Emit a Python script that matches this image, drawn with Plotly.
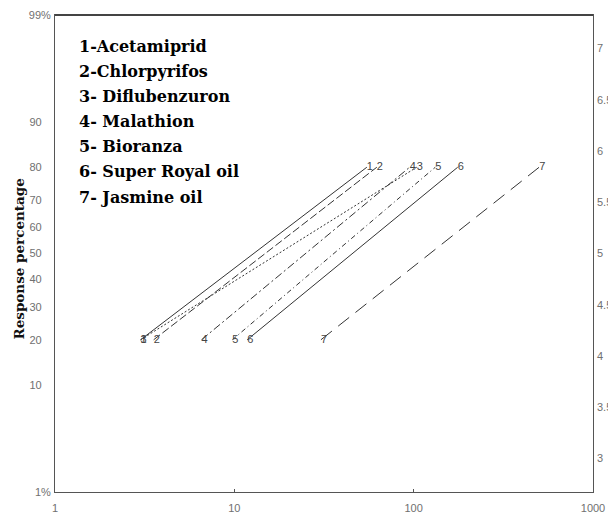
import plotly.graph_objects as go
from statistics import NormalDist

# ---- data ----
series_ids = ["1", "2", "3", "4", "5", "6", "7"]
series_names = ["1-Acetamiprid", "2-Chlorpyrifos", "3- Diflubenzuron", "4- Malathion",
                "5- Bioranza", "6- Super Royal oil", "7- Jasmine oil"]
response_low = 20    # % response at line start
response_high = 80   # % response at line end
dose_low = [3.0, 3.55, 3.0, 6.56, 9.75, 11.8, 30.4]      # dose at 20 %
dose_high = [54.8, 62.3, 104.0, 95.0, 132.0, 176.0, 501.0]  # dose at 80 %

x_tick_values = [1, 10, 100, 1000]
left_tick_labels = [99, 90, 80, 70, 60, 50, 40, 30, 20, 10, 1]
right_tick_values = [3, 3.5, 4, 4.5, 5, 5.5, 6, 6.5, 7]

# ---- styles ----
dash_styles = ["solid", "8px,3px", "2px,2px", "8px,3px,2px,3px", "5px,3px,1px,3px", "solid", "14px,8px"]
line_color = "#333333"
label_grey = "#444444"
tick_grey = "#707070"


def probit(pct):
    return 5 + NormalDist().inv_cdf(pct / 100.0)


y_range = [probit(1), probit(99)]

fig = go.Figure()
for sid, lo, hi, dsh in zip(series_ids, dose_low, dose_high, dash_styles):
    fig.add_trace(go.Scatter(
        x=[lo, hi], y=[probit(response_low), probit(response_high)],
        mode="lines+text", text=[sid, sid], textposition="middle right",
        textfont=dict(family="Liberation Sans", size=11, color=label_grey),
        line=dict(color=line_color, width=1, dash=dsh),
        showlegend=False, cliponaxis=False, hoverinfo="skip"))

# invisible trace to carry the right-hand probit axis
fig.add_trace(go.Scatter(x=[x_tick_values[0]], y=[5], yaxis="y2", mode="markers",
                         marker=dict(size=1, opacity=0), showlegend=False, hoverinfo="skip"))


def left_text(v):
    if v in (1, 99):
        return f"{v}%"
    return f"{v}" + "\u00a0" * 3


fig.update_layout(
    template="none",
    width=608, height=518,
    margin=dict(l=55, r=15, t=15, b=26),
    paper_bgcolor="white", plot_bgcolor="white",
    xaxis=dict(type="log", range=[0, 3], tickmode="array", tickvals=x_tick_values,
               ticktext=[str(v) for v in x_tick_values], showgrid=False, zeroline=False,
               showline=True, mirror=True, linecolor="#555555", linewidth=1,
               ticks="inside", ticklen=3, tickcolor="#555555", automargin=False,
               tickfont=dict(family="Liberation Sans", size=11, color=tick_grey),
               ticklabelstandoff=6),
    yaxis=dict(range=y_range, tickmode="array",
               tickvals=[probit(v) for v in left_tick_labels],
               ticktext=[left_text(v) for v in left_tick_labels],
               showgrid=False, zeroline=False, showline=True, mirror=True,
               linecolor="#555555", linewidth=1, ticks="", automargin=False,
               tickfont=dict(family="Liberation Sans", size=11, color=tick_grey),
               ticklabelstandoff=1),
    yaxis2=dict(range=y_range, overlaying="y", side="right", tickmode="array",
                tickvals=right_tick_values, ticktext=[str(v) for v in right_tick_values],
                showgrid=False, zeroline=False, showline=False, ticks="", automargin=False,
                tickfont=dict(family="Liberation Sans", size=11, color=tick_grey),
                ticklabelstandoff=3),
)

# thicker top frame line
fig.add_shape(type="line", xref="paper", yref="paper", x0=0, x1=1, y0=1, y1=1,
              line=dict(color="#444444", width=2))

# y-axis title
fig.add_annotation(text="<b>Response percentage</b>", xref="paper", yref="paper",
                   x=(18 - 55) / 538, y=(492 - 259.5) / 477, textangle=-90,
                   showarrow=False, xanchor="center", yanchor="middle",
                   font=dict(family="DejaVu Serif", size=13.5, color="#111111"))

# legend block
for i, name in enumerate(series_names):
    yc = 46 + 25.2 * i
    fig.add_annotation(text=f"<b>{name}</b>", xref="paper", yref="paper",
                       x=(77 - 55) / 538, y=(492 - yc) / 477, showarrow=False,
                       xanchor="left", yanchor="middle",
                       font=dict(family="DejaVu Serif", size=16, color="#000000"))

fig.write_html("out.html", config={"displayModeBar": False},
               post_script="document.body.style.margin='0';document.body.style.overflow='hidden';")
